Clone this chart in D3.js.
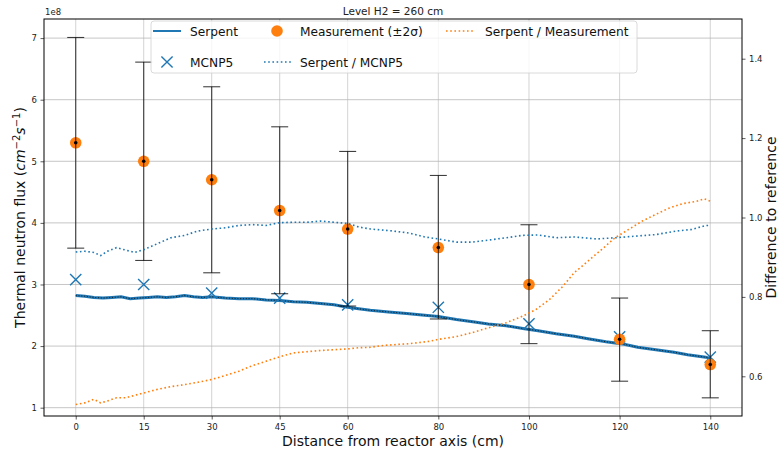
<!DOCTYPE html>
<html>
<head>
<meta charset="utf-8">
<script src="https://cdn.jsdelivr.net/npm/d3@7/dist/d3.min.js"></script>
<style>
  html, body { margin: 0; padding: 0; background: #fff; }
  svg { display: block; font-family: "DejaVu Sans", sans-serif; }
</style>
</head>
<body>
<svg id="chart" width="780" height="455"></svg>
<script>
// Thermal neutron flux profile, level H2 = 260 cm (flux values in units of 1e8 cm^-2 s^-1)
const xTicks = [0, 15, 30, 45, 60, 80, 100, 120, 140];
const fluxTicks = [1, 2, 3, 4, 5, 6, 7];
const ratioTicks = [0.6, 0.8, 1.0, 1.2, 1.4];

// Measurement points with ±2σ bounds
const measX = [0, 15, 30, 45, 60, 80, 100, 120, 140];
const measVal = [5.30, 5.00, 4.70, 4.20, 3.90, 3.60, 3.00, 2.11, 1.70];
const measLow = [3.59, 3.39, 3.19, 2.85, 2.65, 2.44, 2.04, 1.43, 1.16];
const measHigh = [7.01, 6.61, 6.21, 5.56, 5.16, 4.77, 3.97, 2.78, 2.25];

// MCNP5 results at the measurement positions
const mcnpVal = [3.08, 3.00, 2.86, 2.78, 2.67, 2.63, 2.36, 2.15, 1.82];

// Serpent flux along the radial traverse
const serpentX = [0, 2, 4, 6, 8, 10, 12, 14, 16, 18, 20, 22, 24, 26, 28, 30, 33, 36, 39, 42, 45, 48, 51, 54, 57, 60, 62, 65, 69, 73, 77, 80, 84, 88, 91, 95, 99, 102, 106, 110, 113, 117, 121, 124, 128, 132, 135, 139, 140];
const serpentVal = [2.82, 2.81, 2.79, 2.78, 2.79, 2.80, 2.77, 2.78, 2.79, 2.80, 2.79, 2.80, 2.82, 2.80, 2.79, 2.80, 2.78, 2.77, 2.77, 2.75, 2.74, 2.72, 2.71, 2.69, 2.67, 2.63, 2.61, 2.58, 2.555, 2.53, 2.50, 2.48, 2.43, 2.39, 2.36, 2.33, 2.28, 2.25, 2.20, 2.16, 2.12, 2.07, 2.03, 1.98, 1.94, 1.90, 1.86, 1.82, 1.80];

// Serpent / MCNP5 ratio
const ratioMcnpX = [0, 2, 4, 5.5, 7, 9, 11, 13, 15, 18, 21, 24, 27, 30, 33, 36, 39, 42, 45, 48, 51, 54, 57, 60, 62.5, 65, 68, 70, 73.5, 77, 80, 84, 87.5, 91, 95, 98.5, 102, 106, 110, 115, 119, 123.5, 128, 132.5, 136, 139, 140];
const ratioMcnpVal = [0.913, 0.915, 0.912, 0.904, 0.915, 0.924, 0.918, 0.912, 0.919, 0.934, 0.949, 0.955, 0.966, 0.971, 0.974, 0.980, 0.982, 0.980, 0.987, 0.988, 0.988, 0.991, 0.988, 0.985, 0.976, 0.971, 0.968, 0.966, 0.961, 0.951, 0.946, 0.938, 0.938, 0.943, 0.949, 0.955, 0.956, 0.949, 0.951, 0.946, 0.949, 0.953, 0.957, 0.966, 0.970, 0.980, 0.980];

// Serpent / Measurement ratio
const ratioMeasX = [0, 2, 4, 5.5, 7, 9, 11, 13, 15, 18, 21, 24, 27, 30, 33, 36, 39, 42, 45, 48, 51, 54, 57, 60, 62.5, 65, 68, 73.5, 78, 80, 84, 87.5, 91, 95, 98.5, 101.5, 104.5, 107.5, 110, 113, 116, 119, 122, 125, 128, 131, 134, 137, 138.7, 140];
const ratioMeasVal = [0.529, 0.533, 0.542, 0.533, 0.538, 0.546, 0.546, 0.552, 0.558, 0.567, 0.574, 0.579, 0.585, 0.592, 0.602, 0.613, 0.627, 0.638, 0.649, 0.659, 0.662, 0.665, 0.667, 0.669, 0.672, 0.673, 0.678, 0.682, 0.688, 0.693, 0.700, 0.710, 0.722, 0.735, 0.751, 0.768, 0.793, 0.827, 0.861, 0.890, 0.919, 0.949, 0.970, 0.991, 1.008, 1.024, 1.035, 1.041, 1.047, 1.041];

const BLUE = "#1f77b4", ORANGE = "#ff7f0e";

const svg = d3.select("#chart");
const plot = { left: 44, right: 742, top: 19, bottom: 416 };

const x = d3.scaleLinear().domain([-7, 147]).range([plot.left, plot.right]);
const yL = d3.scaleLinear().domain([0.865, 7.31]).range([plot.bottom, plot.top]);
const yR = d3.scaleLinear().domain([0.5, 1.5]).range([plot.bottom, plot.top]);

const clipId = "plotclip";
svg.append("defs").append("clipPath").attr("id", clipId)
  .append("rect").attr("x", plot.left).attr("y", plot.top)
  .attr("width", plot.right - plot.left).attr("height", plot.bottom - plot.top);

// grid
const grid = svg.append("g");
grid.selectAll("line.vx").data(xTicks).join("line")
  .attr("x1", d => x(d)).attr("x2", d => x(d))
  .attr("y1", plot.top).attr("y2", plot.bottom)
  .attr("stroke", "#b0b0b0").attr("stroke-width", 0.8).attr("stroke-opacity", 0.7);
grid.selectAll("line.hy").data(fluxTicks).join("line")
  .attr("x1", plot.left).attr("x2", plot.right)
  .attr("y1", d => yL(d)).attr("y2", d => yL(d))
  .attr("stroke", "#b0b0b0").attr("stroke-width", 0.8).attr("stroke-opacity", 0.9);

const g = svg.append("g").attr("clip-path", `url(#${clipId})`);

// Serpent line: blue with a fine dark dotted core
const serpentLine = d3.line().x((d, i) => x(serpentX[i])).y(d => yL(d));
g.append("path").datum(serpentVal).attr("d", serpentLine)
  .attr("fill", "none").attr("stroke", BLUE).attr("stroke-width", 3);
g.append("path").datum(serpentVal).attr("d", serpentLine)
  .attr("fill", "none").attr("stroke", "#111").attr("stroke-width", 0.9)
  .attr("stroke-dasharray", "1,1.8");

// MCNP5 crosses
const xs = 5.6;
g.selectAll("path.mcnp").data(mcnpVal).join("path")
  .attr("d", (d, i) => {
    const cx = x(measX[i]), cy = yL(d);
    return `M${cx - xs},${cy - xs}L${cx + xs},${cy + xs}M${cx - xs},${cy + xs}L${cx + xs},${cy - xs}`;
  })
  .attr("stroke", BLUE).attr("stroke-width", 1.4).attr("fill", "none");

// measurement circles
g.selectAll("circle.meas").data(measVal).join("circle")
  .attr("cx", (d, i) => x(measX[i])).attr("cy", d => yL(d)).attr("r", 5.8)
  .attr("fill", ORANGE);

// error bars (±2σ)
const eb = g.append("g").attr("stroke", "#000").attr("stroke-opacity", 0.75).attr("stroke-width", 1.1);
measX.forEach((mx, i) => {
  const cx = x(mx);
  eb.append("line").attr("x1", cx).attr("x2", cx).attr("y1", yL(measLow[i])).attr("y2", yL(measHigh[i]));
  eb.append("line").attr("x1", cx - 8.5).attr("x2", cx + 8.5).attr("y1", yL(measLow[i])).attr("y2", yL(measLow[i]));
  eb.append("line").attr("x1", cx - 8.5).attr("x2", cx + 8.5).attr("y1", yL(measHigh[i])).attr("y2", yL(measHigh[i]));
});
g.selectAll("circle.dot").data(measVal).join("circle")
  .attr("cx", (d, i) => x(measX[i])).attr("cy", d => yL(d)).attr("r", 1.8)
  .attr("fill", "#000");

// ratio curves on the secondary axis
g.append("path").datum(ratioMcnpVal)
  .attr("d", d3.line().x((d, i) => x(ratioMcnpX[i])).y(d => yR(d)))
  .attr("fill", "none").attr("stroke", BLUE).attr("stroke-width", 1.6)
  .attr("stroke-dasharray", "1.6,2.6");
g.append("path").datum(ratioMeasVal)
  .attr("d", d3.line().x((d, i) => x(ratioMeasX[i])).y(d => yR(d)))
  .attr("fill", "none").attr("stroke", ORANGE).attr("stroke-width", 1.6)
  .attr("stroke-dasharray", "1.6,2.6");

// axes
const tickFont = "8.5px";
const axB = svg.append("g").attr("transform", `translate(0,${plot.bottom})`)
  .call(d3.axisBottom(x).tickValues(xTicks).tickSize(3.5).tickPadding(4).tickSizeOuter(0));
const axL = svg.append("g").attr("transform", `translate(${plot.left},0)`)
  .call(d3.axisLeft(yL).tickValues(fluxTicks).tickFormat(d3.format("d")).tickSize(3.5).tickPadding(3.5).tickSizeOuter(0));
const axR = svg.append("g").attr("transform", `translate(${plot.right},0)`)
  .call(d3.axisRight(yR).tickValues(ratioTicks).tickFormat(d3.format(".1f")).tickSize(3.5).tickPadding(3.5).tickSizeOuter(0));
[axB, axL, axR].forEach(a => {
  a.select(".domain").remove();
  a.selectAll(".tick line").attr("stroke", "#333").attr("stroke-width", 0.8);
  a.selectAll(".tick text").attr("fill", "#222").style("font-size", tickFont)
    .style("font-family", "DejaVu Sans, sans-serif");
});

// frame
svg.append("rect").attr("x", plot.left).attr("y", plot.top)
  .attr("width", plot.right - plot.left).attr("height", plot.bottom - plot.top)
  .attr("fill", "none").attr("stroke", "#000").attr("stroke-width", 1);

// offset text for the left axis
svg.append("text").attr("x", plot.left + 1).attr("y", 15)
  .style("font-size", "8.5px").attr("fill", "#222").text("1e8");

// title
svg.append("text").attr("x", (plot.left + plot.right) / 2).attr("y", 15)
  .attr("text-anchor", "middle").style("font-size", "10.5px").attr("fill", "#222")
  .text("Level H2 = 260 cm");

// axis labels
svg.append("text").attr("x", (plot.left + plot.right) / 2).attr("y", 446)
  .attr("text-anchor", "middle").style("font-size", "14px").attr("fill", "#111")
  .text("Distance from reactor axis (cm)");

const yl = svg.append("text")
  .attr("transform", `translate(25,${(plot.top + plot.bottom) / 2}) rotate(-90)`)
  .attr("text-anchor", "middle").style("font-size", "14px").attr("fill", "#111");
yl.append("tspan").text("Thermal neutron flux (");
yl.append("tspan").style("font-style", "italic").text("cm");
yl.append("tspan").attr("dy", -5.5).style("font-size", "10px").text("−2");
yl.append("tspan").attr("dy", 5.5).style("font-style", "italic").text("s");
yl.append("tspan").attr("dy", -5.5).style("font-size", "10px").text("−1");
yl.append("tspan").attr("dy", 5.5).text(")");

svg.append("text")
  .attr("transform", `translate(776,${(plot.top + plot.bottom) / 2}) rotate(-90)`)
  .attr("text-anchor", "middle").style("font-size", "14px").attr("fill", "#111")
  .text("Difference to reference");

// legend
const legend = svg.append("g");
legend.append("rect").attr("x", 151).attr("y", 21).attr("width", 486).attr("height", 52)
  .attr("rx", 3).attr("fill", "#fff").attr("fill-opacity", 0.8)
  .attr("stroke", "#d0d0d0").attr("stroke-width", 0.8);

const legendItems = [
  { label: "Serpent", kind: "line", col: 0, row: 0 },
  { label: "Measurement (±2σ)", kind: "circle", col: 1, row: 0 },
  { label: "Serpent / Measurement", kind: "dotOrange", col: 2, row: 0 },
  { label: "MCNP5", kind: "cross", col: 0, row: 1 },
  { label: "Serpent / MCNP5", kind: "dotBlue", col: 1, row: 1 }
];
const colX = [153, 263, 445];
const rowY = [31, 62];
legendItems.forEach(it => {
  const hx = colX[it.col], hy = rowY[it.row];
  const item = legend.append("g");
  if (it.kind === "line") {
    item.append("line").attr("x1", hx).attr("x2", hx + 28).attr("y1", hy).attr("y2", hy)
      .attr("stroke", BLUE).attr("stroke-width", 2);
  } else if (it.kind === "circle") {
    item.append("circle").attr("cx", hx + 14).attr("cy", hy).attr("r", 5.8).attr("fill", ORANGE);
  } else if (it.kind === "cross") {
    const cx = hx + 14, s = 5.6;
    item.append("path").attr("d", `M${cx - s},${hy - s}L${cx + s},${hy + s}M${cx - s},${hy + s}L${cx + s},${hy - s}`)
      .attr("stroke", BLUE).attr("stroke-width", 1.4);
  } else {
    item.append("line").attr("x1", hx + 1).attr("x2", hx + 29).attr("y1", hy).attr("y2", hy)
      .attr("stroke", it.kind === "dotOrange" ? ORANGE : BLUE).attr("stroke-width", 1.6)
      .attr("stroke-dasharray", "1.6,2.6");
  }
  item.append("text").attr("x", hx + (it.col === 2 ? 40 : 37)).attr("y", hy + 4.5)
    .style("font-size", "12.2px").attr("fill", "#111").text(it.label);
});
</script>
</body>
</html>
